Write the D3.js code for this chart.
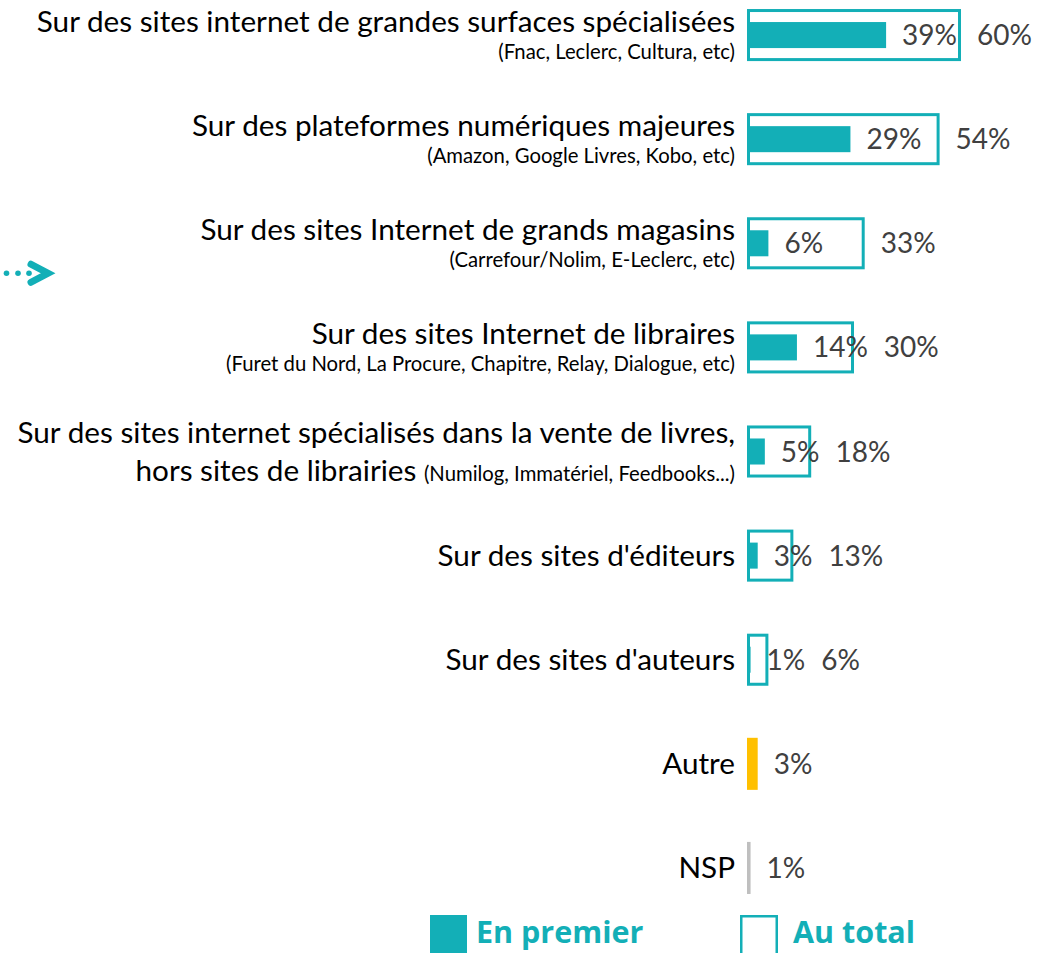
<!DOCTYPE html>
<html><head><meta charset="utf-8">
<script src="https://cdn.jsdelivr.net/npm/d3@7"></script>
<style>html,body{margin:0;padding:0;background:#fff;}svg{display:block;}</style>
</head><body>
<svg id="chart" width="1049" height="953"></svg>
<script>
const categories = [
  "Sur des sites internet de grandes surfaces spécialisées",
  "Sur des plateformes numériques majeures",
  "Sur des sites Internet de grands magasins",
  "Sur des sites Internet de libraires",
  "Sur des sites internet spécialisés dans la vente de livres,",
  "Sur des sites d'éditeurs",
  "Sur des sites d'auteurs",
  "Autre",
  "NSP"
];
const secondLines = ["", "", "", "", "hors sites de librairies", "", "", "", ""];
const subtitles = [
  "(Fnac, Leclerc, Cultura, etc)",
  "(Amazon, Google Livres, Kobo, etc)",
  "(Carrefour/Nolim, E-Leclerc, etc)",
  "(Furet du Nord, La Procure, Chapitre, Relay, Dialogue, etc)",
  "(Numilog, Immatériel, Feedbooks...)",
  "", "", "", ""
];
const enPremier = [39, 29, 6, 14, 5, 3, 1, 3, 1];
const auTotal = [60, 54, 33, 30, 18, 13, 6, null, null];
const barKinds = ["site", "site", "site", "site", "site", "site", "site", "autre", "nsp"];
const legendLabels = ["En premier", "Au total"];

const TEAL = "#13AFB7";
const colorFor = {site: TEAL, autre: "#FFC000", nsp: "#BFBFBF"};
const FONT = "Lato, 'Open Sans', sans-serif";
const LEGEND_FONT = "'Open Sans', Lato, sans-serif";

const svg = d3.select("#chart");
const x = d3.scaleLinear().domain([0, 60]).range([747, 961]);
const y = d3.scaleBand().domain(d3.range(categories.length)).range([-17, 920]).paddingInner(0.5).paddingOuter(0.25);
const bw = y.bandwidth();

const rows = categories.map((c, i) => ({i, c, l2: secondLines[i], sub: subtitles[i], p: enPremier[i], t: auTotal[i], kind: barKinds[i]}));

const g = svg.append("g");

// outline boxes (au total)
g.selectAll("rect.total").data(rows.filter(d => d.t != null)).join("rect")
  .attr("class", "total")
  .attr("x", x(0) + 1.5).attr("y", d => y(d.i) + 1.5)
  .attr("width", d => x(d.t) - x(0) - 3).attr("height", bw - 3)
  .attr("fill", "none").attr("stroke", TEAL).attr("stroke-width", 3);

// filled bars (en premier)
g.selectAll("rect.prem").data(rows).join("rect")
  .attr("class", "prem")
  .attr("x", x(0))
  .attr("y", d => d.t != null ? y(d.i) + bw / 4 : y(d.i))
  .attr("width", d => x(d.p) - x(0))
  .attr("height", d => d.t != null ? bw / 2 : bw)
  .attr("fill", d => colorFor[d.kind]);

// value labels
const premLabels = g.selectAll("text.plab").data(rows).join("text")
  .attr("class", "plab")
  .attr("x", d => x(d.p) + 16)
  .attr("y", d => y(d.i) + bw / 2 + 10)
  .attr("font-family", FONT).attr("font-size", 28).attr("fill", "#404040")
  .text(d => d.p + "%");

const premEnds = {};
premLabels.each(function(d){ premEnds[d.i] = x(d.p) + 16 + this.getComputedTextLength(); });

g.selectAll("text.tlab").data(rows.filter(d => d.t != null)).join("text")
  .attr("class", "tlab")
  .attr("x", d => Math.max(x(d.t), premEnds[d.i]) + 16)
  .attr("y", d => y(d.i) + bw / 2 + 10)
  .attr("font-family", FONT).attr("font-size", 28).attr("fill", "#404040")
  .text(d => d.t + "%");

// category labels
const labelX = 735;
const MAIN = 29.7, SUB = 20.3;
rows.forEach(d => {
  const cy = y(d.i) + bw / 2;
  if (d.l2) {
    g.append("text").attr("x", labelX).attr("y", cy - 9)
      .attr("text-anchor", "end").attr("font-family", FONT).attr("font-size", MAIN).attr("fill", "#000")
      .text(d.c);
    const t2 = g.append("text").attr("x", labelX).attr("y", cy + 29)
      .attr("text-anchor", "end").attr("font-family", FONT).attr("fill", "#000");
    t2.append("tspan").attr("font-size", MAIN).text(d.l2 + " ");
    t2.append("tspan").attr("font-size", SUB).text(d.sub);
  } else if (d.sub) {
    g.append("text").attr("x", labelX).attr("y", cy - 3)
      .attr("text-anchor", "end").attr("font-family", FONT).attr("font-size", MAIN).attr("fill", "#000")
      .text(d.c);
    g.append("text").attr("x", labelX).attr("y", cy + 24)
      .attr("text-anchor", "end").attr("font-family", FONT).attr("font-size", SUB).attr("fill", "#000")
      .text(d.sub);
  } else {
    g.append("text").attr("x", labelX).attr("y", cy + 10)
      .attr("text-anchor", "end").attr("font-family", FONT).attr("font-size", MAIN).attr("fill", "#000")
      .text(d.c);
  }
});

// arrow marker at left
const arrowY = y(2) + bw / 2 + 30;
const ag = svg.append("g").attr("fill", TEAL);
[6.5, 18, 29].forEach(cx => ag.append("circle").attr("cx", cx).attr("cy", arrowY).attr("r", 2.8));
svg.append("path")
  .attr("d", `M31,${arrowY - 9} L48,${arrowY} L31,${arrowY + 9}`)
  .attr("fill", "none").attr("stroke", TEAL).attr("stroke-width", 7)
  .attr("stroke-linecap", "round").attr("stroke-linejoin", "miter");

// legend
const lg = svg.append("g");
lg.append("rect").attr("x", 430).attr("y", 915).attr("width", 37).attr("height", 40).attr("fill", TEAL);
lg.append("text").attr("x", 476).attr("y", 943).attr("font-family", LEGEND_FONT).attr("font-weight", "bold")
  .attr("font-size", 30.5).attr("fill", TEAL).text(legendLabels[0]);
lg.append("rect").attr("x", 741.25).attr("y", 916.25).attr("width", 35.5).attr("height", 40)
  .attr("fill", "none").attr("stroke", TEAL).attr("stroke-width", 2.5);
lg.append("text").attr("x", 793).attr("y", 943).attr("font-family", LEGEND_FONT).attr("font-weight", "bold")
  .attr("font-size", 30.5).attr("fill", TEAL).text(legendLabels[1]);
</script>
</body></html>
